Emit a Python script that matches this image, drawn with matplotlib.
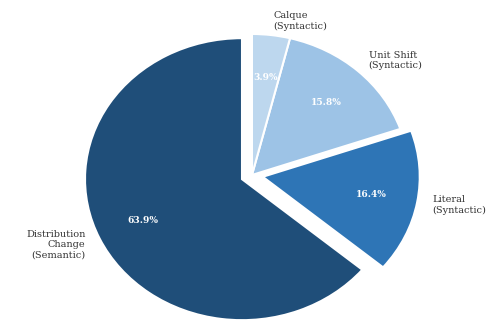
import matplotlib
matplotlib.use("Agg")
import matplotlib.pyplot as plt

categories = ["Distribution\nChange\n(Semantic)", "Literal\n(Syntactic)",
              "Unit Shift\n(Syntactic)", "Calque\n(Syntactic)"]
values = [63.9, 16.4, 15.8, 3.9]
colors = ["#1f4e79", "#2e75b6", "#9dc3e6", "#bdd7ee"]
explode = [0.07, 0.07, 0.0, 0.0]

fig = plt.figure(figsize=(4.89, 3.27), dpi=100)
ax = fig.add_axes([0, 0, 1, 1])
wedges, texts, autotexts = ax.pie(
    values, labels=categories, colors=colors, explode=explode,
    startangle=90, counterclock=True, autopct="%1.1f%%", pctdistance=0.7,
    labeldistance=1.1,
    wedgeprops=dict(edgecolor="white", linewidth=1.5),
    textprops=dict(family="DejaVu Serif", fontsize=7, color="#333333"))
for t in autotexts:
    t.set_color("white")
    t.set_fontweight("bold")
    t.set_fontsize(6.5)
ax.set_aspect("auto")
ax.set_xlim(-1.605, 1.510)
ax.set_ylim(-1.078, 1.241)
ax.axis("off")
fig.savefig("out.png", dpi=100)
